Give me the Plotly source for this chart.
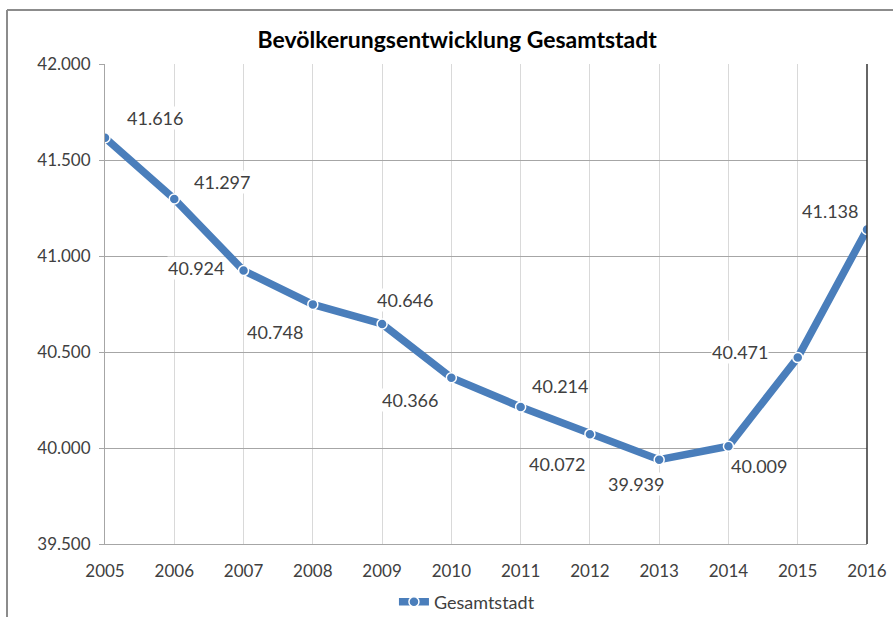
import plotly.graph_objects as go

years = [2005, 2006, 2007, 2008, 2009, 2010, 2011, 2012, 2013, 2014, 2015, 2016]
population = [41616, 41297, 40924, 40748, 40646, 40366, 40214, 40072, 39939, 40009, 40471, 41138]
# label offsets (pixels) relative to each point
label_dx = [50, 48, -48, -38, 23, -41, 39, -33, -23, 31, -58, -37]
label_dy = [20, 17, 3, -28, 24, -22, 21, -30, -24, -20, 6, 19]
y_ticks = [39500, 40000, 40500, 41000, 41500, 42000]

FONT = "Lato"
TXT = "#404040"
BLUE = "#4a7ebb"

fig = go.Figure()
fig.add_trace(go.Scatter(
    x=years, y=population, mode="lines+markers", name="Gesamtstadt",
    line=dict(color=BLUE, width=7.5),
    marker=dict(size=10, color=BLUE, line=dict(color="white", width=1.5)),
))

def fmt(v):
    return f"{v:,}".replace(",", ".")

for x, y, dx, dy in zip(years, population, label_dx, label_dy):
    fig.add_annotation(x=x, y=y, xref="x", yref="y", text=fmt(y), showarrow=False,
                       xshift=dx, yshift=dy, bgcolor="white", borderpad=0,
                       font=dict(family=FONT, size=18, color=TXT))

# outer chart frame (left and top edges)
fig.add_shape(type="line", xref="paper", yref="paper", x0=-0.1286, x1=-0.1286, y0=-0.2, y1=1.1125,
              line=dict(color="#8c8c8c", width=2))
fig.add_shape(type="line", xref="paper", yref="paper", x0=-0.1286, x1=1.1, y0=1.1125, y1=1.1125,
              line=dict(color="#8c8c8c", width=2))
# plot area right border
fig.add_shape(type="line", xref="paper", yref="paper", x0=1, x1=1, y0=0, y1=1,
              line=dict(color="#333333", width=1.5))

fig.update_layout(
    width=893, height=617,
    margin=dict(l=105, r=26, t=64, b=73, autoexpand=False),
    paper_bgcolor="white", plot_bgcolor="white",
    separators=",.",
    title=dict(text="<b>Bevölkerungsentwicklung Gesamtstadt</b>", x=0.512, xanchor="center",
               y=1 - 40 / 617, yanchor="middle",
               font=dict(family=FONT, size=23, color="#000000")),
    font=dict(family=FONT, size=17, color=TXT),
    showlegend=True,
    legend=dict(orientation="h", x=0.475, xanchor="center", y=-0.121, yanchor="middle",
                font=dict(family=FONT, size=18, color=TXT)),
)
fig.update_xaxes(range=[2005, 2016], tickmode="array", tickvals=years,
                 showgrid=True, gridcolor="#d9d9d9", gridwidth=1,
                 showline=True, linecolor="#a6a6a6", linewidth=1,
                 ticks="", ticklabelstandoff=12, zeroline=False, automargin=False,
                 tickfont=dict(family=FONT, size=17, color=TXT))
fig.update_yaxes(range=[39500, 42000], tickmode="array", tickvals=y_ticks, tickformat=",d",
                 showgrid=True, gridcolor="#a6a6a6", gridwidth=1,
                 showline=True, linecolor="#a6a6a6", linewidth=1,
                 ticks="outside", ticklen=5, tickcolor="#a6a6a6", ticklabelstandoff=5,
                 zeroline=False, automargin=False,
                 tickfont=dict(family=FONT, size=17, color=TXT))

fig.write_html("out.html", config={"displayModeBar": False},
               post_script="document.body.style.margin='0';")
